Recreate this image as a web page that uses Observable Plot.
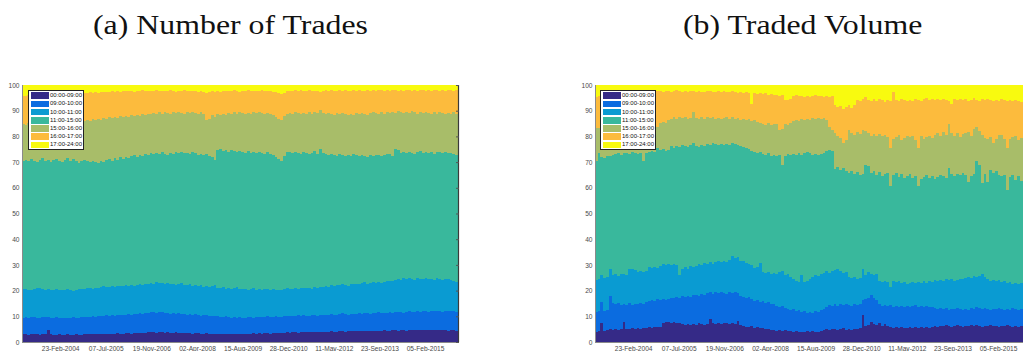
<!DOCTYPE html>
<html><head><meta charset="utf-8">
<script src="https://cdn.jsdelivr.net/npm/d3@7"></script>
<script src="https://cdn.jsdelivr.net/npm/@observablehq/plot@0.6"></script>
<style>
html,body{margin:0;padding:0;background:#fff;width:1023px;height:351px;overflow:hidden;position:relative}
.panel{position:absolute;top:60px;width:470px;height:302px}
.panel svg{max-width:none !important}
#titles{position:absolute;left:0;top:0}
.legend{position:absolute;background:#fff;border:1.3px solid #222;box-sizing:border-box;width:56px;height:60px;font-family:"Liberation Sans",Arial,sans-serif;font-size:6px;color:#111}
.legend .sw{position:absolute;left:2px;width:18px;height:6.6px}
.legend .lb{position:absolute;left:21px;line-height:7px;white-space:nowrap}
</style></head><body>
<svg id="titles" width="1023" height="60"></svg>
<div id="left" class="panel" style="left:0px"></div>
<div id="right" class="panel" style="left:573px"></div>
<script>
const series = ["00:00-09:00","09:00-10:00","10:00-11:00","11:00-15:00","15:00-16:00","16:00-17:00","17:00-24:00"];
const colors = ["#352a87","#0b6ce0","#0a9bd2","#39b89c","#a8bd69","#fcbb3d","#f8fa0f"];
const xTickLabels = ["23-Feb-2004","07-Jul-2005","19-Nov-2006","02-Apr-2008","15-Aug-2009","28-Dec-2010","11-May-2012","23-Sep-2013","05-Feb-2015"];
const yTicks = [0,10,20,30,40,50,60,70,80,90,100];
const titles = ["(a) Number of Trades","(b) Traded Volume"];

// Number of trades: cumulative share (%) up to the end of each period, monthly Jan-2003 .. Jan-2016
const tr0900 = [
3.0,3.1,2.9,3.0,3.1,3.0,2.9,3.0,3.1,4.5,3.0,2.9,
2.9,3.0,2.8,2.9,3.0,2.8,2.9,3.0,2.9,2.8,3.0,3.1,
3.0,3.1,3.2,3.0,3.1,3.3,3.2,3.1,3.3,3.2,3.4,3.3,
3.3,3.5,3.4,3.3,3.5,3.6,3.4,3.5,3.6,3.7,3.8,3.7,
3.6,3.8,3.7,3.6,3.8,3.5,3.6,3.7,3.5,3.4,3.6,3.5,
3.4,3.3,3.5,3.4,3.2,3.3,3.4,3.2,3.1,3.3,3.2,3.1,
3.0,3.2,3.1,3.0,3.2,3.1,3.3,3.2,3.1,3.3,3.2,3.4,
3.3,3.4,3.2,3.5,3.4,3.3,3.5,3.6,3.4,3.5,3.6,3.7,
3.6,3.8,3.7,3.6,3.8,3.9,3.7,3.8,4.0,3.9,3.8,4.0,
4.0,3.9,4.0,4.1,4.0,3.9,4.1,4.2,4.0,4.1,4.2,4.1,
4.1,4.3,4.2,4.3,4.2,4.1,4.4,4.3,4.2,4.4,4.5,4.3,
4.4,4.6,4.5,4.3,4.5,4.6,4.4,4.7,4.6,4.5,4.7,4.8,
4.6,4.8,4.7,4.5,4.7,4.8,4.6,4.5,4.7,4.4,4.6,4.5,
4.4];
const tr1000 = [
9.5,9.7,9.4,9.6,9.8,9.5,9.3,9.6,9.7,9.9,9.5,9.4,
9.6,9.3,9.5,9.4,9.2,9.5,9.6,9.3,9.4,9.7,9.8,9.6,
9.9,10.1,9.8,10.0,10.3,10.1,10.4,10.2,10.5,10.3,10.6,10.4,
10.7,10.5,10.8,10.6,11.0,10.9,11.1,10.8,11.2,11.4,11.6,11.5,
11.3,11.7,11.5,11.2,11.4,11.0,11.2,10.9,11.1,10.8,11.0,10.7,
10.9,10.6,10.8,10.5,10.3,10.6,10.4,10.1,10.3,10.0,10.2,9.9,
9.8,10.0,9.6,9.5,9.8,9.4,9.7,9.5,9.3,9.6,9.8,9.5,
9.7,9.9,9.6,9.8,10.0,9.7,9.9,10.1,9.8,9.6,10.0,10.2,
10.0,10.3,10.1,10.4,10.2,10.5,10.3,10.1,10.4,10.6,10.3,10.5,
10.7,10.4,10.6,10.8,10.5,10.7,10.9,11.1,10.8,10.6,11.0,10.8,
11.0,11.2,10.9,11.1,11.3,11.0,11.4,11.2,11.5,11.3,11.1,11.4,
11.6,11.3,11.5,11.8,11.6,11.4,11.7,11.9,11.6,11.8,12.0,11.7,
11.9,12.1,11.8,12.0,12.2,11.9,12.1,11.8,12.0,12.2,11.9,12.0,
11.8];
const tr1100 = [
20.6,20.8,20.4,20.2,20.7,21.0,20.9,20.5,20.3,20.6,20.4,20.2,
20.5,20.3,20.1,20.4,20.6,20.2,20.0,20.3,20.5,20.8,20.6,20.9,
21.1,20.8,21.2,21.0,21.4,21.6,21.3,21.5,21.8,21.4,21.7,21.9,
21.6,22.0,21.8,22.2,21.9,22.3,22.5,22.1,22.6,22.4,23.0,22.7,
23.2,22.8,23.0,22.6,22.9,22.4,22.7,22.2,22.5,23.1,22.3,22.0,
22.4,21.9,22.2,21.7,22.0,21.5,21.8,21.3,21.6,22.2,21.2,20.9,
21.3,20.8,21.1,20.6,20.9,21.4,20.7,20.5,20.8,20.3,20.6,21.0,
20.4,20.7,20.2,20.5,20.8,20.3,20.6,20.1,20.4,20.2,20.6,20.9,
20.5,20.8,21.0,20.7,21.1,20.9,21.2,21.0,20.8,21.3,21.1,21.4,
21.4,21.8,21.5,22.0,21.8,22.3,22.0,22.5,22.2,21.9,22.6,22.4,
22.7,22.4,22.9,23.2,22.7,23.1,23.4,23.0,23.3,22.9,23.5,23.8,
23.9,23.6,24.1,24.5,24.2,24.8,24.4,25.0,24.6,24.3,24.9,24.5,
24.6,25.0,24.4,24.7,24.3,24.8,24.5,24.1,24.7,24.4,24.0,23.6,
23.3];
const tr1500 = [
70.5,70.9,70.3,71.2,70.6,70.1,70.8,71.5,70.4,70.9,70.2,70.7,
71.3,70.6,70.0,70.8,71.6,70.5,71.1,70.3,69.8,70.6,71.0,70.4,
69.9,70.5,70.2,69.6,70.3,70.0,70.8,71.2,70.6,71.5,71.0,71.8,
71.4,72.0,71.6,72.3,72.7,72.1,72.9,72.5,73.2,72.8,73.4,73.0,
73.5,73.1,73.8,73.3,72.9,73.6,73.2,73.9,73.4,74.0,73.5,73.7,
73.2,73.8,73.4,72.6,73.0,72.7,73.3,72.5,72.0,70.9,74.8,75.0,
74.4,74.8,74.1,74.9,74.3,73.8,74.5,74.0,73.6,74.2,73.5,73.9,
73.4,74.0,73.6,73.2,73.8,73.3,72.6,71.9,71.2,70.5,72.4,73.8,
74.1,73.5,74.0,73.6,73.2,73.9,73.4,73.0,73.7,74.2,73.3,75.2,
73.6,73.1,72.7,73.3,72.9,72.5,73.0,72.6,72.2,72.8,72.4,73.0,
72.6,72.3,72.9,72.5,72.1,72.7,72.4,72.9,72.6,72.3,72.8,73.3,
73.0,72.5,75.2,74.8,73.6,73.9,73.4,74.1,73.7,73.2,73.8,74.2,
73.6,74.0,73.5,73.9,73.3,73.8,74.1,73.5,73.9,73.4,73.7,73.1,
72.8];
const tr1600 = [
84.8,84.5,85.1,84.7,85.3,84.9,85.5,85.0,85.6,85.2,85.8,85.4,
85.9,85.5,86.1,85.7,86.3,85.8,85.4,86.0,85.6,86.2,85.8,86.5,
86.1,86.7,86.3,86.9,86.5,87.1,86.8,87.4,87.0,87.6,87.2,87.8,
87.5,88.0,87.7,88.3,87.9,88.5,88.1,88.7,88.4,88.9,88.6,89.1,
88.8,89.3,88.9,89.5,89.1,88.7,89.4,89.0,89.6,89.2,88.8,89.4,
89.0,89.5,89.1,88.7,89.3,88.9,86.5,86.8,88.2,87.5,88.6,88.3,
88.9,88.5,89.1,88.7,89.3,88.8,89.4,89.0,88.6,89.2,88.8,89.4,
89.0,89.5,89.1,88.7,89.2,88.8,88.3,87.6,86.9,86.4,87.8,88.7,
89.2,88.8,89.4,89.0,88.6,89.1,88.7,89.3,88.9,89.5,89.0,90.2,
89.1,88.7,89.2,88.8,88.4,89.0,88.6,89.1,88.7,88.3,88.9,88.5,
89.0,88.6,89.2,88.8,88.4,89.0,89.5,89.1,88.7,89.3,88.9,89.4,
89.0,89.6,89.2,89.8,89.4,89.0,89.5,89.1,89.7,89.3,88.9,89.4,
89.0,89.5,89.1,88.7,89.3,88.9,89.4,89.0,88.6,89.2,88.8,89.3,
88.9];
const tr1700 = [
95.8,95.6,96.0,95.9,96.1,95.8,96.2,96.0,96.3,96.1,96.4,96.2,
96.5,96.3,96.6,96.4,96.7,96.5,96.8,96.6,96.9,96.7,97.0,96.8,
97.1,96.9,97.2,97.0,97.3,97.1,97.4,97.2,97.5,97.3,97.6,97.4,
97.7,97.5,97.8,97.6,97.4,97.8,97.6,97.9,97.7,97.5,97.8,97.6,
97.9,97.7,97.5,97.8,97.6,97.9,97.7,97.4,97.8,97.6,97.9,97.7,
97.5,97.8,97.6,97.3,97.7,97.4,97.0,97.2,97.5,97.3,97.6,97.4,
97.7,97.5,97.8,97.6,97.9,97.7,97.4,97.8,97.6,97.9,97.7,97.5,
97.8,97.6,97.9,97.7,97.5,97.8,97.4,97.1,96.7,96.4,97.0,97.5,
97.8,97.6,97.9,97.7,98.0,97.8,97.6,97.9,97.7,97.5,97.8,97.3,
97.6,97.9,97.7,98.0,97.8,97.6,97.9,97.7,98.0,97.8,97.6,97.9,
97.7,98.0,97.8,97.6,97.9,97.7,98.0,97.8,98.1,97.9,97.7,98.0,
97.8,98.1,97.9,97.7,98.0,97.8,98.1,97.9,97.7,98.0,97.8,98.1,
97.9,97.7,98.0,97.8,98.1,97.9,97.7,98.0,97.8,98.1,97.9,97.7,
98.0];

// Traded volume: cumulative share (%) up to the end of each period
const vo0900 = [
4.0,4.2,7.5,4.4,4.7,4.9,4.6,5.1,4.8,5.2,7.8,5.0,
4.9,5.3,5.1,5.5,5.2,5.6,5.4,5.8,5.5,5.9,5.7,6.0,
7.2,7.6,7.8,7.4,7.7,7.3,7.5,7.0,6.8,7.1,6.7,7.0,
6.8,7.2,6.9,6.6,7.1,8.9,7.3,7.0,7.4,7.1,7.5,7.2,
7.0,7.3,7.1,8.2,6.5,6.2,6.0,5.8,6.3,5.6,5.9,5.4,
5.6,5.2,4.9,4.6,4.8,4.4,4.7,4.3,4.5,4.1,4.4,3.9,
4.2,3.8,4.0,3.7,4.1,3.9,4.3,4.0,3.8,4.4,4.8,5.1,
4.7,5.2,4.9,4.6,5.0,5.3,4.8,5.1,4.7,5.2,4.9,5.3,
10.4,6.2,6.8,7.8,7.0,6.5,7.2,6.4,6.9,6.1,5.7,5.5,
5.8,5.4,5.9,5.6,5.3,5.7,5.5,5.8,5.4,5.9,5.6,5.8,
5.5,5.9,6.2,6.0,6.4,6.1,6.5,6.2,5.9,6.3,6.6,6.2,
6.0,6.4,6.1,6.5,6.2,6.6,6.3,6.0,6.4,6.1,6.5,6.2,
6.3,6.0,6.4,6.1,6.5,6.2,5.9,6.3,6.0,6.4,6.1,6.3,
6.0];
const vo1000 = [
11.7,11.9,15.6,12.0,12.4,17.8,15.2,14.6,15.0,14.3,14.8,14.5,
15.1,14.4,14.9,14.6,15.3,14.8,15.4,16.0,16.5,15.9,16.6,16.2,
16.8,16.3,16.9,17.3,17.0,17.6,17.2,17.8,17.4,18.0,17.6,18.2,
18.4,18.0,18.7,18.3,18.9,19.3,18.8,19.4,19.0,19.5,19.1,18.7,
19.3,18.9,19.4,19.0,17.8,17.4,17.0,17.5,16.6,16.0,16.4,15.6,
15.9,15.2,15.5,14.6,14.9,14.2,13.7,14.0,13.3,13.0,12.6,12.8,
12.2,12.5,11.8,12.1,11.1,11.6,11.3,11.9,11.5,12.3,13.0,13.6,
14.3,14.0,14.6,14.2,14.8,14.4,14.9,14.5,14.1,14.7,14.3,14.9,
16.2,16.8,17.3,18.1,17.0,16.5,14.6,14.1,14.5,13.9,14.3,13.8,
14.2,13.7,14.1,13.6,14.0,13.5,13.9,14.3,13.8,14.2,13.6,13.9,
13.5,13.8,13.2,13.0,13.4,12.8,13.2,12.6,13.0,12.7,13.3,12.9,
12.5,12.9,12.6,13.2,12.8,13.5,13.1,12.7,13.3,12.9,12.6,13.0,
12.7,13.1,12.8,12.5,12.9,12.6,13.2,12.8,12.4,12.9,12.6,13.0,
12.7];
const vo1100 = [
24.3,24.6,25.9,25.0,25.4,28.5,26.0,26.4,25.8,26.3,26.6,26.1,
28.3,28.5,28.0,27.2,27.6,27.1,27.7,29.3,28.8,29.2,28.7,29.6,
30.4,30.1,30.5,29.9,30.3,30.0,25.9,28.5,29.0,28.4,29.6,29.2,
29.7,30.4,30.1,30.8,30.3,31.0,30.5,31.0,31.5,31.2,31.7,31.3,
32.0,33.6,32.7,33.2,31.7,31.4,30.9,30.4,30.0,28.8,29.0,30.8,
27.4,26.8,27.2,26.5,27.0,26.6,27.3,27.8,25.9,26.3,25.3,24.6,
23.9,23.5,25.9,23.3,23.6,24.4,25.2,26.0,25.5,26.4,26.9,27.5,
27.0,27.6,28.0,28.4,27.6,26.8,27.1,25.2,24.8,25.4,24.6,25.0,
28.4,26.0,27.1,26.6,25.9,26.3,23.9,23.5,23.7,23.3,21.4,23.8,
23.2,23.6,22.9,23.4,22.7,23.1,23.5,22.8,23.3,22.9,23.6,23.1,
23.9,23.4,24.0,23.6,24.2,23.8,24.5,24.1,24.6,23.9,24.3,24.7,
24.4,24.9,25.3,24.8,25.5,25.1,25.7,26.5,25.2,24.5,23.9,24.3,
23.6,24.0,23.3,23.8,22.9,23.4,22.6,23.1,22.4,22.9,22.2,22.8,
22.5];
const vo1500 = [
70.5,73.7,72.0,71.5,72.5,72.2,72.8,73.0,73.5,72.9,73.4,73.6,
73.2,73.8,73.5,73.1,73.7,70.3,73.4,73.9,74.3,74.0,75.4,74.6,
75.0,74.3,74.8,76.1,75.6,76.4,76.0,76.7,76.2,75.8,76.5,77.6,
76.3,76.0,76.8,76.4,77.0,76.6,77.3,76.9,76.5,77.1,76.7,77.2,
76.8,77.3,76.9,76.5,76.2,75.8,75.4,75.0,74.5,74.0,73.5,73.8,
73.2,72.8,73.4,72.5,72.9,72.3,72.6,68.9,72.5,73.1,72.7,73.3,
72.9,73.4,72.6,73.7,74.0,73.5,72.8,73.2,72.6,73.1,73.6,74.3,
74.8,74.5,67.5,68.2,66.8,67.6,66.4,65.9,66.6,65.4,66.0,64.8,
65.3,69.0,68.6,65.8,66.4,65.0,66.2,64.7,65.5,65.9,60.6,64.9,
65.6,64.3,65.2,63.8,64.6,65.4,63.9,64.5,60.6,63.6,64.2,64.8,
63.9,64.5,63.6,64.2,65.0,64.4,63.7,67.7,65.3,64.7,65.5,64.9,
65.6,64.8,62.2,64.5,65.4,70.3,69.0,61.9,65.2,62.1,67.0,65.8,
66.5,65.0,64.4,64.8,59.3,64.2,65.0,63.1,64.6,62.5,63.8,62.4,
63.0];
const vo1600 = [
83.1,83.4,83.0,83.5,83.2,83.7,83.4,83.9,83.6,84.1,83.8,84.3,
84.0,84.5,84.2,84.7,84.4,83.0,84.6,85.0,84.7,85.2,83.8,85.1,
85.6,85.3,86.4,86.9,87.4,86.8,87.6,87.1,87.5,86.9,87.3,89.6,
87.2,86.7,87.4,86.9,87.6,87.0,87.5,86.8,87.3,86.7,87.1,87.6,
86.9,87.4,86.8,87.2,86.5,86.9,86.3,86.7,85.9,86.2,85.7,85.3,
85.0,84.6,85.2,84.4,85.0,84.7,82.5,83.0,85.0,84.6,85.3,85.8,
86.4,86.0,86.7,86.2,86.9,86.5,87.0,86.6,87.2,86.8,87.0,86.5,
83.8,82.6,81.5,80.3,79.4,77.3,78.5,82.5,81.3,80.6,81.8,80.9,
82.5,82.0,81.4,80.2,80.9,80.0,81.1,80.3,80.6,79.8,75.4,78.9,
79.6,80.4,78.7,79.3,80.0,79.9,80.2,78.6,75.4,80.0,78.9,79.7,
80.1,79.2,80.6,81.3,80.0,81.8,80.5,85.0,81.2,80.2,81.4,79.9,
80.8,81.5,81.6,80.3,82.7,83.8,82.0,80.6,79.5,78.8,79.9,77.6,
78.9,80.4,80.4,79.1,75.4,78.8,79.6,80.2,78.7,79.4,78.9,79.8,
79.2];
const vo1700 = [
95.4,95.8,97.5,97.6,97.4,97.7,97.5,97.8,97.6,97.3,97.7,97.5,
97.8,97.6,97.4,97.7,97.5,97.9,97.6,97.3,97.7,97.5,97.8,97.6,
97.4,97.8,97.5,97.2,97.6,97.9,97.5,97.3,97.7,97.4,97.8,97.5,
97.3,97.7,97.4,97.1,97.5,97.8,97.4,97.2,97.6,97.3,97.7,97.4,
97.1,97.5,97.2,96.9,97.3,97.0,97.4,96.8,92.8,96.9,96.6,96.9,
96.4,96.7,96.2,96.5,96.0,96.3,95.9,96.2,94.1,94.3,94.6,95.8,
96.0,95.6,95.9,95.5,95.8,95.4,95.7,96.1,95.6,95.9,95.5,95.8,
95.5,95.9,92.2,91.5,92.0,90.8,91.6,92.4,91.1,92.3,94.0,93.6,
94.5,95.2,94.1,93.7,94.4,93.8,94.6,94.0,93.5,94.2,93.7,97.3,
94.3,93.8,94.5,94.0,93.6,94.3,93.9,94.6,94.1,93.7,94.4,94.8,
94.2,94.6,94.0,94.5,94.1,94.7,94.3,93.9,92.8,94.4,94.0,94.6,
94.1,94.5,93.9,94.3,94.8,94.2,93.8,94.4,94.0,94.6,94.1,93.7,
94.3,93.9,94.5,94.0,93.6,94.2,93.8,94.3,93.9,93.5,92.9,92.8,
93.0];

const xStart = new Date(Date.UTC(2003,0,1));
const xEnd = new Date(Date.UTC(2016,1,1));
const months = d3.utcMonths(xStart, xEnd); // Jan-2003 .. Jan-2016
const parseTick = d3.utcParse("%d-%b-%Y");
const fmtTick = d3.utcFormat("%d-%b-%Y");
const tickDates = xTickLabels.map(parseTick);

function buildRows(cums){
  const rows = [];
  months.forEach((m, i) => {
    for (let k = 0; k < series.length; k++){
      rows.push({
        x1: m, x2: d3.utcMonth.offset(m, 1),
        y1: k === 0 ? 0 : cums[k-1][i],
        y2: k === series.length - 1 ? 100 : cums[k][i],
        s: series[k]
      });
    }
  });
  return rows;
}

function panel(cums, withRightBorder){
  const rows = buildRows(cums);
  return Plot.plot({
    width: 470, height: 302,
    marginLeft: 22, marginRight: 12, marginTop: 25, marginBottom: 20,
    style: {fontFamily: "'Liberation Sans', Arial, sans-serif", fontSize: "6.6px", color: "#4a4a4a", background: "transparent", maxWidth: "none"},
    x: {type: "utc", domain: [xStart, xEnd], label: null},
    y: {domain: [0, 100], label: null},
    color: {domain: series, range: colors},
    marks: [
      Plot.rect(rows, {x1: "x1", x2: "x2", y1: "y1", y2: "y2", fill: "s", shapeRendering: "crispEdges"}),
      Plot.ruleX([xStart], {stroke: "#8a8a8a", strokeWidth: 1}),
      Plot.ruleY([0], {stroke: "#8a8a8a", strokeWidth: 1}),
      withRightBorder ? Plot.ruleX([xEnd], {stroke: "#3a3a3a", strokeWidth: 1.2}) : null,
      Plot.axisY({anchor: "left", ticks: yTicks, tickSize: 0, tickPadding: 3, label: null}),
      Plot.axisX({anchor: "bottom", ticks: tickDates, tickFormat: fmtTick, tickSize: 0, tickPadding: 4, label: null}),
      withRightBorder ? Plot.axisY({anchor: "right", ticks: yTicks, tickSize: -3, tickFormat: () => "", stroke: "#555", label: null}) : null
    ]
  });
}

document.getElementById("left").appendChild(panel([tr0900,tr1000,tr1100,tr1500,tr1600,tr1700], true));
document.getElementById("right").appendChild(panel([vo0900,vo1000,vo1100,vo1500,vo1600,vo1700], false));

// legends
function legend(left, top){
  const d = document.createElement("div");
  d.className = "legend";
  d.style.left = left + "px"; d.style.top = top + "px";
  series.forEach((s, i) => {
    const cy = 4.7 + 8.2 * i;
    const sw = document.createElement("div");
    sw.className = "sw"; sw.style.top = (cy - 3.3) + "px"; sw.style.background = colors[i];
    const lb = document.createElement("div");
    lb.className = "lb"; lb.style.top = (cy - 3.5) + "px"; lb.textContent = s;
    d.appendChild(sw); d.appendChild(lb);
  });
  document.body.appendChild(d);
}
legend(28, 90);
legend(600, 90);

// titles
const svg = d3.select("#titles");
const tA = svg.append("text").attr("x", 93).attr("y", 33.5).text(titles[0])
  .attr("font-family", "'Liberation Serif', serif").attr("font-size", 27).attr("fill", "#111");
const natA = tA.node().getComputedTextLength();
const stretch = 275 / natA;
tA.attr("textLength", 275).attr("lengthAdjust", "spacingAndGlyphs");
const tB = svg.append("text").attr("x", 683).attr("y", 33.5).text(titles[1])
  .attr("font-family", "'Liberation Serif', serif").attr("font-size", 27).attr("fill", "#111");
const natB = tB.node().getComputedTextLength();
tB.attr("textLength", natB * stretch).attr("lengthAdjust", "spacingAndGlyphs");
</script>
</body></html>
